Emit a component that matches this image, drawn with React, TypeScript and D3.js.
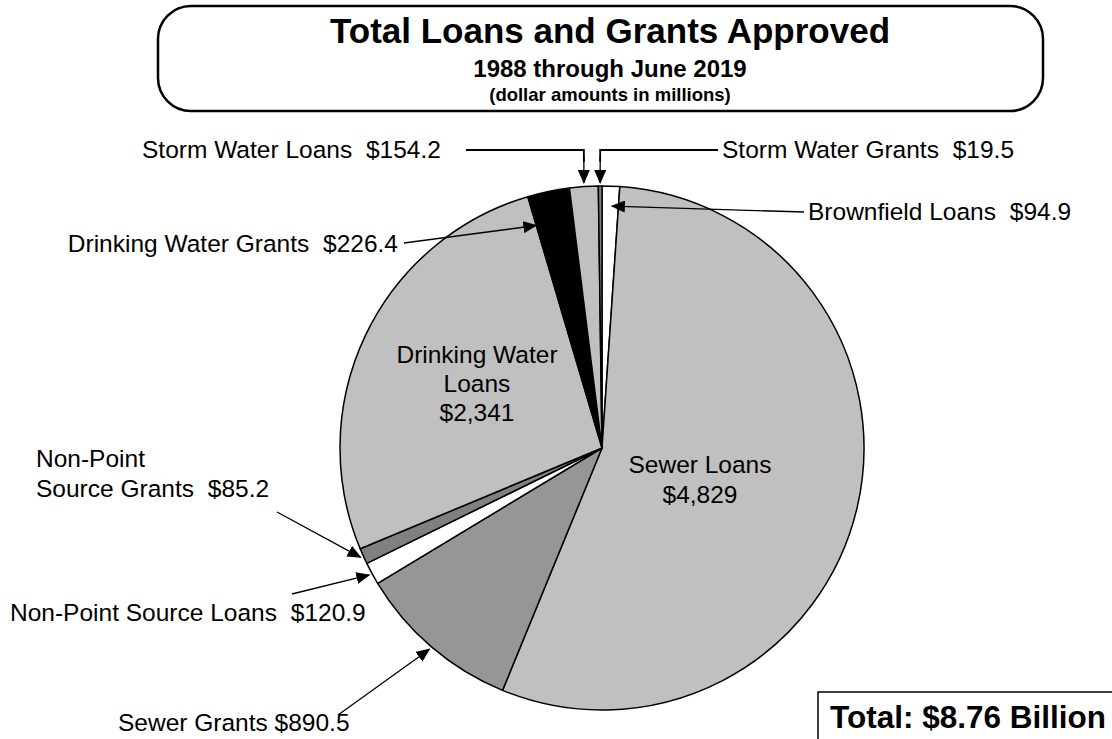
import React from "react";
import * as d3 from "d3";

const categories = [
  "Brownfield Loans",
  "Sewer Loans",
  "Sewer Grants",
  "Non-Point Source Loans",
  "Non-Point Source Grants",
  "Drinking Water Loans",
  "Drinking Water Grants",
  "Storm Water Loans",
  "Storm Water Grants",
];
const values = [94.9, 4829, 890.5, 120.9, 85.2, 2341, 226.4, 154.2, 19.5];
const sliceColors = ["#FFFFFF", "#C0C0C0", "#969696", "#FFFFFF", "#808080", "#C0C0C0", "#000000", "#C0C0C0", "#808080"];

const titleLines = ["Total Loans and Grants Approved", "1988 through June 2019", "(dollar amounts in millions)"];
const totalLabel = "Total: $8.76 Billion";

const W = 1112;
const H = 739;
const cx = 602;
const cy = 448;
const R = 262;
const FONT = "'Liberation Sans', Arial, Helvetica, sans-serif";

export default function App() {
  const pie = d3.pie<number>().sort(null).value((d) => d).startAngle(0).endAngle(2 * Math.PI);
  const arcs = pie(values);
  const arc = d3.arc<d3.PieArcDatum<number>>().innerRadius(0).outerRadius(R);

  const pt = (a: number, r: number): [number, number] => [cx + r * Math.sin(a), cy - r * Math.cos(a)];
  const mid = (i: number) => (arcs[i].startAngle + arcs[i].endAngle) / 2;

  const arrow = (x1: number, y1: number, x2: number, y2: number, key: string) => (
    <line key={key} x1={x1} y1={y1} x2={x2} y2={y2} stroke="#000" strokeWidth={1.3} markerEnd="url(#ah)" />
  );

  const fmt = (v: number) => "$" + (v >= 1000 ? d3.format(",.0f")(v) : d3.format(".1f")(v));

  // label with a wider gap before the amount
  const lab = (name: string, v: number, gap = 7) => (
    <>
      {name}
      <tspan dx={gap}>{" " + fmt(v)}</tspan>
    </>
  );

  const swlX = pt(mid(7), R)[0];
  const swgX = pt(mid(8), R)[0];
  const topY = cy - R;
  const bfTip = pt(arcs[0].startAngle + (arcs[0].endAngle - arcs[0].startAngle) * 0.6, 242);
  const dwgTip = pt(arcs[6].startAngle, 232);
  const npsgTip = pt(mid(4), R + 3);
  const npslTip = pt(mid(3), R + 3);
  const sgTip = pt(mid(2), R + 3);

  const lineY = 150;

  return (
    <svg width={W} height={H} style={{ position: "absolute", left: 0, top: 0, background: "#fff" }} fontFamily={FONT}>
      <defs>
        <marker id="ah" markerUnits="userSpaceOnUse" markerWidth={14} markerHeight={12} refX={13} refY={6} orient="auto">
          <path d="M0,0 L14,6 L0,12 Z" fill="#000" />
        </marker>
      </defs>
      <rect x={0} y={0} width={W} height={H} fill="#fff" />
      {/* Title box */}
      <rect x={158} y={6} width={885} height={105} rx={33} ry={33} fill="#fff" stroke="#000" strokeWidth={2.5} />
      <text x={610} y={43} textAnchor="middle" fontWeight="bold" fontSize={35}>{titleLines[0]}</text>
      <text x={610} y={77} textAnchor="middle" fontWeight="bold" fontSize={24}>{titleLines[1]}</text>
      <text x={610} y={101} textAnchor="middle" fontWeight="bold" fontSize={18.5}>{titleLines[2]}</text>

      {/* Pie */}
      <g transform={`translate(${cx},${cy})`}>
        {arcs.map((a, i) => (
          <path key={i} d={arc(a) || ""} fill={sliceColors[i]} stroke="#000" strokeWidth={1.5} strokeLinejoin="round" />
        ))}
      </g>

      {/* Labels */}
      <g fontSize={24.5} fill="#000">
        <text x={142} y={lineY + 8}>{lab(categories[7], values[7])}</text>
        <polyline points={`466,${lineY} ${swlX},${lineY} ${swlX},${lineY + 12}`} fill="none" stroke="#000" strokeWidth={1.8} />
        {arrow(swlX, lineY + 6, swlX, topY - 3, "a1")}

        <text x={722} y={lineY + 8}>{lab(categories[8], values[8])}</text>
        <polyline points={`718,${lineY} ${swgX},${lineY} ${swgX},${lineY + 12}`} fill="none" stroke="#000" strokeWidth={1.8} />
        {arrow(swgX, lineY + 6, swgX, topY - 3, "a2")}

        <text x={808} y={220}>{lab(categories[0], values[0])}</text>
        {arrow(804, 212, bfTip[0], bfTip[1], "a3")}

        <text x={398} y={252} textAnchor="end">{lab(categories[6], values[6])}</text>
        {arrow(404, 243, dwgTip[0], dwgTip[1], "a4")}

        <text x={477} y={363} textAnchor="middle">Drinking Water</text>
        <text x={477} y={392} textAnchor="middle">Loans</text>
        <text x={477} y={421} textAnchor="middle">{fmt(values[5])}</text>

        <text x={700} y={473} textAnchor="middle">{categories[1]}</text>
        <text x={700} y={503} textAnchor="middle">{fmt(values[1])}</text>

        <text x={36} y={467}>Non-Point</text>
        <text x={36} y={497}>{lab("Source Grants", values[4])}</text>
        {arrow(277, 512, npsgTip[0], npsgTip[1], "a5")}

        <text x={10} y={621}>{lab(categories[3], values[3])}</text>
        {arrow(292, 594, npslTip[0], npslTip[1], "a6")}

        <text x={118} y={731}>{`${categories[2]} ${fmt(values[2])}`}</text>
        {arrow(338, 715, sgTip[0], sgTip[1], "a7")}
      </g>

      {/* Total box */}
      <rect x={818} y={692} width={320} height={70} fill="#fff" stroke="#000" strokeWidth={1.5} />
      <text x={830} y={728} fontWeight="bold" fontSize={31.5}>{totalLabel}</text>
    </svg>
  );
}
